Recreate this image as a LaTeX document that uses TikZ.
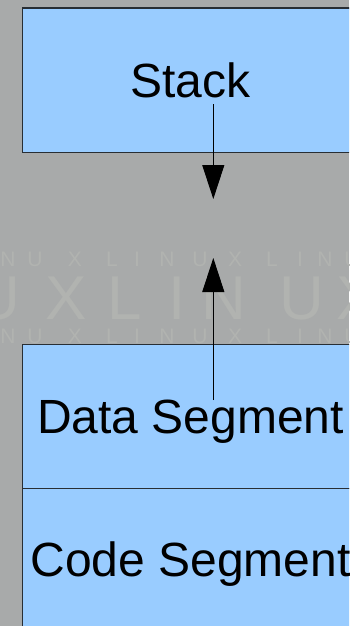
\documentclass[tikz,border=0pt]{standalone}
\usepackage{fontspec}
\setmainfont{Liberation Sans}
\usetikzlibrary{arrows.meta}
\definecolor{bg}{RGB}{168,170,170}
\definecolor{wm}{RGB}{177,179,176}
\definecolor{seg}{RGB}{153,204,255}
\definecolor{edge}{RGB}{40,46,52}
\begin{document}
\begin{tikzpicture}[x=1pt,y=-1pt,
  segbox/.style={draw=edge, line width=1.1pt, fill=seg, minimum width=337pt,
    inner sep=0pt, text height=34.5pt, text depth=0pt,
    font=\fontsize{48}{56}\selectfont, text=black},
  conn/.style={line width=1pt, -{Triangle[length=34pt,width=22pt]}},
  wmbig/.style={text=wm, inner sep=0pt, text height=44pt, text depth=0pt, font=\fontsize{62}{62}\selectfont},
  wmsmall/.style={text=wm, inner sep=0pt, text height=15pt, text depth=0pt, font=\fontsize{21}{21}\selectfont}]
\useasboundingbox (0,0) rectangle (349,626);
\clip (0,0) rectangle (349,626);
\fill[bg] (0,0) rectangle (349,626);
% watermark
\foreach \ch/\xx [count=\i] in {U/-2,X/66,L/125,I/177,N/224,U/302,X/357}
  \node[wmbig] (wb\i) at (\xx,297) {\ch};
\foreach \ch/\xx [count=\i] in {N/8,U/35,X/75,L/112,I/137,N/167,U/200,X/235,L/272,I/300,N/325,U/352}{
  \node[wmsmall] (wt\i) at (\xx,259) {\ch};
  \node[wmsmall] (wl\i) at (\xx,336) {\ch};
}
% segments
\node[segbox, minimum height=144pt, anchor=north west] (stack) at (21.5,7.5) {Stack};
\node[segbox, minimum height=144.5pt, anchor=north west] (data) at (21.5,343.5) {Data Segment};
\node[segbox, minimum height=142pt, anchor=north west] (code) at (21.5,488) {Code Segment};
% arrows
\coordinate (s1) at (213.3,104);
\coordinate (s2) at (213.3,199);
\coordinate (d1) at (213.3,400);
\coordinate (d2) at (213.3,258);
\draw[conn] (s1) -- (s2);
\draw[conn] (d1) -- (d2);
\end{tikzpicture}
\end{document}
